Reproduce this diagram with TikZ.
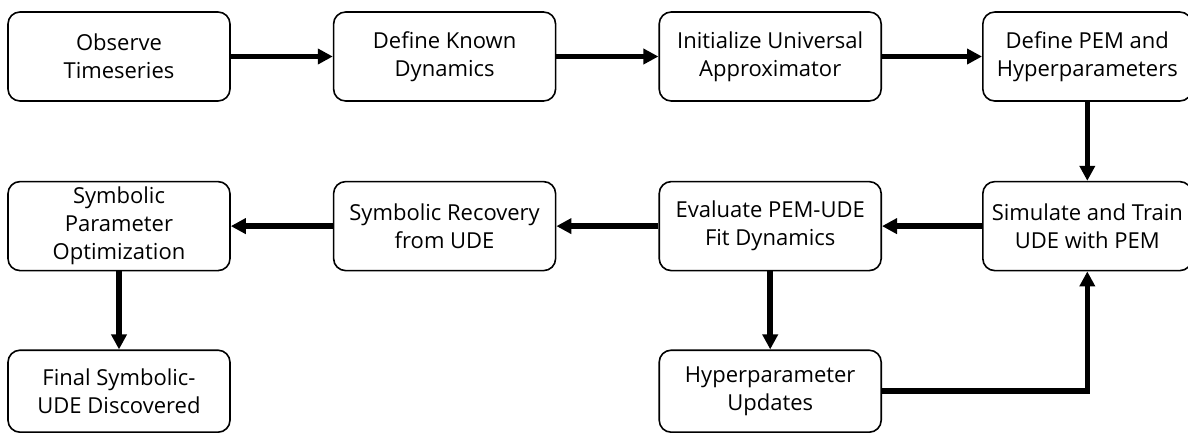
\documentclass[tikz,border=0pt]{standalone}
\usepackage{fontspec}
\setmainfont{Open Sans}
\usetikzlibrary{arrows.meta,positioning}

\begin{document}
\begin{tikzpicture}[
        x=1pt, y=1pt,
        node distance=79pt and 102pt,
        >={Triangle[length=15pt,width=15pt]},
        font=\fontsize{22}{28}\selectfont,
        block/.style={
            rectangle,
            draw=black,
            line width=1.6pt,
            fill=white,
            align=center,
            rounded corners=12pt,
            minimum width=222pt,
            minimum height=89pt,
            inner sep=0pt
        },
        line/.style={
            draw,
            ->,
            line width=5.5pt
        }
    ]
    \useasboundingbox [fill=white] (0,0) rectangle (1188,-432);

    % Top row
    \node [block] (observe) at (119,-56.5) {Observe\\Timeseries};
    \node [block, right=of observe] (known) {Define Known\\Dynamics};
    \node [block, right=of known] (approx) {Initialize Universal\\Approximator};
    \node [block, right=100pt of approx, minimum width=209pt] (pem) {Define PEM and\\Hyperparameters};

    % Middle row
    \node [block, below=of pem, minimum width=209pt] (train) {Simulate and Train\\UDE with PEM};
    \node [block, below=of approx] (evaluate) {Evaluate PEM-UDE\\Fit Dynamics};
    \node [block, below=of known] (recovery) {Symbolic Recovery\\from UDE};
    \node [block, below=of observe] (symopt) {Symbolic\\Parameter\\Optimization};

    % Bottom row
    \node [block, below=78pt of symopt, minimum height=82pt] (final) {Final Symbolic-\\UDE Discovered};
    \node [block, below=78pt of evaluate, minimum height=82pt] (hyper) {Hyperparameter\\Updates};

    % Connections
    \path [line] (observe) -- (known);
    \path [line] (known) -- (approx);
    \path [line] (approx) -- (pem);
    \path [line] (pem) -- (train);
    \path [line] (train) -- (evaluate);
    \path [line] (evaluate) -- (recovery);
    \path [line] (recovery) -- (symopt);
    \path [line] (symopt) -- (final);
    \path [line] (evaluate) -- (hyper);
    \path [line] (hyper.east) -| (train.south);

\end{tikzpicture}
\end{document}
